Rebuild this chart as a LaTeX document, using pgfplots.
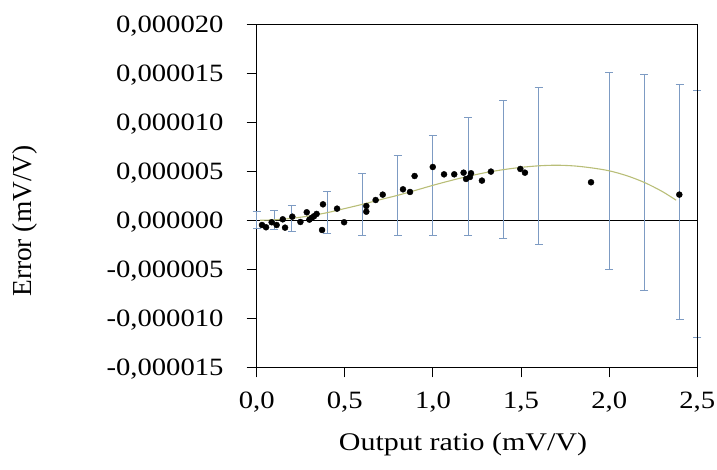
\documentclass[border=0pt]{standalone}
\usepackage{pgfplots}
\pgfplotsset{compat=1.18}
\usepackage{pgfplotstable}
\usepackage{graphicx}
\usepackage{fontspec}
\setmainfont{Liberation Serif}
\definecolor{errc}{RGB}{125,155,195}
\definecolor{fitc}{RGB}{185,190,120}
\newcommand\tl[1]{\scalebox{1.15}[1]{#1}}

\pgfplotstableread{
x y e
0.0 0.00 0.87
0.1 0.05 0.97
0.2 0.20 1.30
0.4 0.78 2.17
0.6 1.63 3.13
0.8 2.55 4.11
1.0 3.57 5.07
1.2 4.49 6.05
1.4 5.17 7.01
1.6 5.56 8.04
2.0 5.05 10.05
2.2 3.86 11.04
2.4 1.86 12.02
2.5 0.63 12.57
}\errtable

\pgfplotstableread{
x y
0.02 0.00
0.1 0.05
0.2 0.20
0.3 0.45
0.4 0.78
0.5 1.20
0.6 1.63
0.7 2.10
0.8 2.55
0.9 3.05
1.0 3.57
1.1 4.05
1.2 4.49
1.3 4.87
1.4 5.17
1.5 5.40
1.6 5.56
1.7 5.62
1.8 5.55
1.9 5.35
2.0 5.05
2.1 4.55
2.2 3.86
2.3 2.95
2.38 2.05
}\fittable

\pgfplotstableread{
x y
0.030 -0.48
0.053 -0.71
0.085 -0.20
0.113 -0.48
0.148 0.10
0.161 -0.75
0.202 0.37
0.248 -0.17
0.284 0.82
0.299 0.07
0.312 0.24
0.325 0.41
0.340 0.65
0.371 -0.99
0.376 1.63
0.456 1.19
0.496 -0.20
0.622 1.46
0.622 0.88
0.675 2.07
0.715 2.62
0.830 3.16
0.870 2.89
0.896 4.52
0.999 5.44
1.063 4.69
1.121 4.69
1.174 4.86
1.188 4.22
1.210 4.42
1.216 4.80
1.278 4.05
1.329 4.97
1.496 5.24
1.522 4.86
1.897 3.88
2.398 2.62
}\datatable

\begin{document}
\begin{tikzpicture}
\begin{axis}[
  scale only axis,
  width=440.6bp, height=343bp,
  xmin=0, xmax=2.5, ymin=-15, ymax=20,
  clip=false,
  axis lines=box,
  axis line style={black, line width=1bp},
  xtick={0,0.5,1,1.5,2,2.5},
  xticklabels={{\tl{0,0}},{\tl{0,5}},{\tl{1,0}},{\tl{1,5}},{\tl{2,0}},{\tl{2,5}}},
  ytick={-15,-10,-5,0,5,10,15,20},
  yticklabels={{\tl{-0,000015}},{\tl{-0,000010}},{\tl{-0,000005}},{\tl{0,000000}},{\tl{0,000005}},{\tl{0,000010}},{\tl{0,000015}},{\tl{0,000020}}},
  xtick pos=left, ytick pos=left,
  tick align=outside,
  major tick length=10bp,
  tick style={black, line width=1bp},
  tick label style={font=\fontsize{25}{30}\selectfont, inner sep=0pt},
  yticklabel style={anchor=base east, xshift=-23bp, yshift=-8.45bp},
  xticklabel style={anchor=base, yshift=-31bp},
  xlabel={\scalebox{1.18}[1]{Output ratio (mV/V)}},
  ylabel={Error (mV/V)},
  xlabel style={font=\fontsize{25.5}{30}\selectfont, inner sep=0pt, at={(axis description cs:0.4682,-0.244)}, anchor=base},
  ylabel style={font=\fontsize{27.5}{30}\selectfont, inner sep=0pt, at={(axis description cs:-0.5259,0.4265)}, anchor=center},
]
\coordinate (O) at (rel axis cs:0,0);
\addplot[black, line width=1.6bp] coordinates {(0,0) (2.5,0)};
\addplot[draw=none, mark=none, error bars/.cd, y dir=both, y explicit,
  error bar style={draw=errc, line width=1bp},
  error mark options={draw=errc, line width=1bp, mark size=4bp, rotate=90}]
  table[x=x, y=y, y error=e] {\errtable};
\addplot[fitc, line width=1.1bp, smooth, mark=none] table[x=x,y=y] {\fittable};
\addplot[only marks, mark=*, mark size=3bp, black] table[x=x,y=y] {\datatable};
\draw[black, line width=1bp] (rel axis cs:0,1) -- (rel axis cs:1,1) -- (rel axis cs:1,0);
\end{axis}
\pgfresetboundingbox
\path[use as bounding box] (O) ++(-256.7bp,-102.7bp) rectangle ++(717bp,470bp);
\end{tikzpicture}
\end{document}
